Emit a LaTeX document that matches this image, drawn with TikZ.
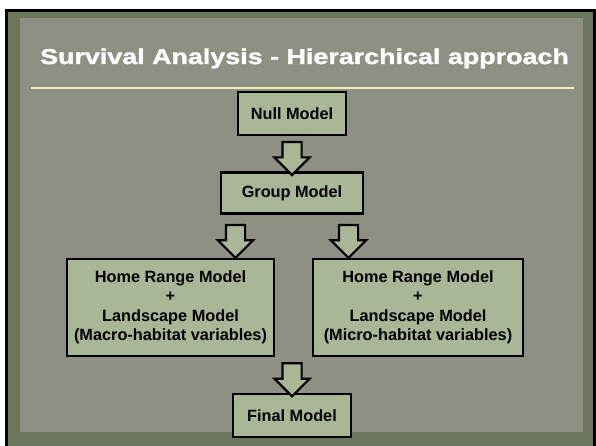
\documentclass[tikz,border=0pt]{standalone}
\usepackage{fontspec}
\setmainfont{Liberation Sans}
\newfontfamily\titlefont[FakeStretch=1.25,FakeBold=1.5]{Liberation Sans Bold}
\usepackage{tikz}
\usetikzlibrary{positioning,shapes.arrows,calc}
\definecolor{slate}{HTML}{8D9183}
\definecolor{olivebg}{HTML}{6C765D}
\definecolor{sage}{HTML}{A9B796}
\definecolor{rulecol}{HTML}{F4EEB2}

\begin{document}
\begin{tikzpicture}[x=1pt,y=-1pt,
  model/.style={draw=black,fill=sage,line width=2.4pt,align=center,inner sep=2pt,
    font=\fontsize{16.3}{19.5}\selectfont\bfseries},
  flow/.style={single arrow,draw=black,fill=sage,line width=2.2pt,
    inner xsep=0pt,inner ysep=8.5pt,
    minimum height=33pt,single arrow head extend=8pt,
    rotate=-90}]
% slide background
\useasboundingbox (0,0) rectangle (596,446);
\fill[white] (0,0) rectangle (596,446);
\fill[black] (5,9) rectangle (596,446);
\fill[olivebg] (8,12) rectangle (593,446);
\fill[slate] (20,18) rectangle (583,432);
% title
\node[anchor=base,text=white,font=\titlefont\fontsize{21.5}{24}\selectfont]
  (title) at (304.5,64) {Survival Analysis - Hierarchical approach};
\draw[rulecol,line width=2pt] (31,88) -- (574,88);
% models
\node[model,minimum width=108pt,minimum height=43pt] (null) at (292,113.5) {Null Model};
\node[model,minimum width=142pt,minimum height=41pt,below=35pt of null] (group) {Group Model};
\node[model,minimum width=207pt,minimum height=97pt] (macro) at (170.5,307.5)
  {Home Range Model\\+\\Landscape Model\\(Macro-habitat variables)};
\node[model,minimum width=210pt,minimum height=97pt] (micro) at (418,307.5)
  {Home Range Model\\+\\Landscape Model\\(Micro-habitat variables)};
\node[model,minimum width=118pt,minimum height=43pt] (final) at (292,415.5) {Final Model};
% block arrows
\node[flow] (a1) at ($(null.south)!0.5!(group.north)$) {};
\node[flow] (a2) at ($(group.south)+(-56.5,22)$) {};
\node[flow] (a3) at ($(group.south)+(56.5,22)$) {};
\node[flow] (a4) at ($(macro.south -| final.north)!0.5!(final.north)$) {};
\end{tikzpicture}
\end{document}
